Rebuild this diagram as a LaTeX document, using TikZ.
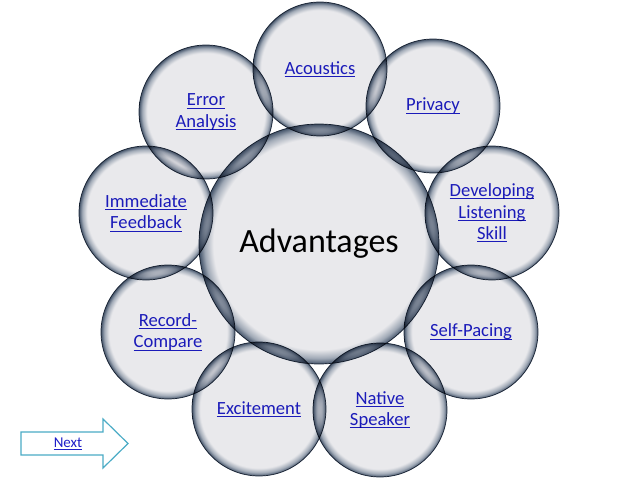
\documentclass[tikz,border=0pt]{standalone}
\usepackage{fontspec}
\setmainfont{Carlito}
\definecolor{bubin}{RGB}{233,233,236}
\definecolor{bubmid}{RGB}{160,169,182}
\definecolor{bubedge}{RGB}{68,84,106}
\definecolor{bubline}{RGB}{40,54,74}
\definecolor{linkblue}{RGB}{30,30,200}
\definecolor{arrowcol}{RGB}{75,172,198}
\pgfdeclareradialshading{bubble}{\pgfpoint{0bp}{0bp}}{color(0bp)=(bubin); color(22bp)=(bubin); color(23.8bp)=(bubmid); color(25bp)=(bubedge); color(50bp)=(bubedge)}
\newcommand\lnk[1]{\setbox0\hbox{#1}\rlap{\rule[-2.7pt]{\wd0}{0.9pt}}\box0}
\begin{document}
\begin{tikzpicture}[x=1pt,y=-1pt,
  bub/.style={circle, inner sep=0pt, minimum size=134pt, shade, shading=bubble,
    draw=bubline, line width=0.7pt, text=linkblue, align=center,
    font=\fontsize{18.6}{21.5}\selectfont},
  nextbox/.style={draw=arrowcol, line width=1.2pt, fill=white, line join=miter}]
\useasboundingbox (0,0) rectangle (638,479);
\fill[white] (0,0) rectangle (638,479);
\begin{scope}[blend mode=multiply]
\node[bub, minimum size=240pt, text=black, font=\fontsize{34}{40}\selectfont] (adv) at (319,244) {Advantages};
\node[bub] (acou) at (320,69) {\lnk{Acoustics}};
\node[bub] (priv) at (433,106) {\lnk{Privacy}};
\node[bub] (dev) at (492,213) {\lnk{Developing}\\\lnk{Listening}\\\lnk{Skill}};
\node[bub] (self) at (471,332) {\lnk{Self-Pacing}};
\node[bub] (nat) at (380,410) {\lnk{Native}\\\lnk{Speaker}};
\node[bub] (exc) at (259,409) {\lnk{Excitement}};
\node[bub] (rec) at (168,332) {\lnk{Record-}\\\lnk{Compare}};
\node[bub] (imm) at (146,213) {\lnk{Immediate}\\\lnk{Feedback}};
\node[bub] (err) at (206,112) {\lnk{Error}\\\lnk{Analysis}};
\end{scope}
\draw[nextbox] (21,432) -- (103,432) -- (103,419) -- (128,443.5) -- (103,468) -- (103,455) -- (21,455) -- cycle;
\node[text=linkblue, font=\fontsize{15}{17}\selectfont, inner sep=0pt] (next) at (68,444) {\lnk{Next}};
\end{tikzpicture}
\end{document}
